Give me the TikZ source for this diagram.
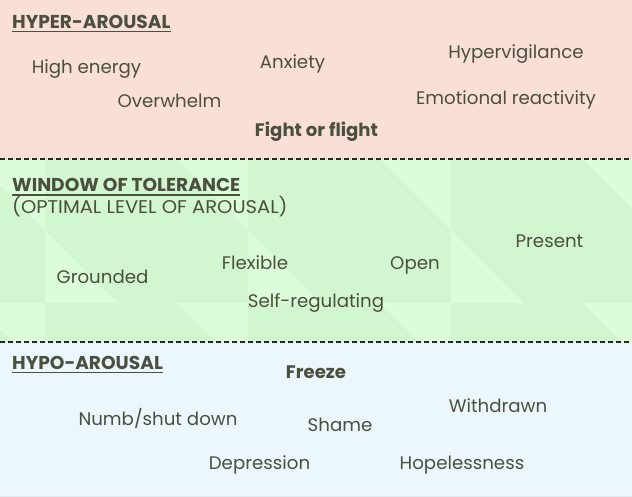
\documentclass[tikz,border=0pt]{standalone}
\usepackage{fontspec}
\usepackage{graphicx}
\setmainfont{Poppins}
\definecolor{txt}{RGB}{74,79,62}
\definecolor{pinkbg}{RGB}{250,223,214}
\definecolor{greenbg}{RGB}{210,246,208}
\definecolor{greenlt}{RGB}{219,253,217}
\definecolor{bluebg}{RGB}{235,247,253}
\begin{document}
\begin{tikzpicture}[x=1pt,y=-1pt,
  lbl/.style={font=\fontsize{18.2}{22}\selectfont, text=txt, inner sep=0pt, anchor=base},
  boldlbl/.style={lbl, font=\fontsize{18.1}{22}\selectfont\bfseries},
  hdr/.style={font=\fontsize{18.6}{22}\selectfont\bfseries, text=txt, inner sep=0pt, anchor=base west},
  sub/.style={font=\fontsize{18.4}{22}\selectfont, text=txt, inner sep=0pt, anchor=base west},
  uline/.style={draw=txt, line width=1.3pt},
  sep/.style={draw=black!85, line width=2pt, dash pattern=on 5pt off 3pt},
  tri/.style={fill=greenlt, draw=none}]
\useasboundingbox (0,0) rectangle (632,497);
% backgrounds
\fill[pinkbg] (0,0) rectangle (632,159.5);
\fill[greenbg] (0,159.5) rectangle (632,342);
\fill[bluebg] (0,342) rectangle (632,497);
\draw[color={rgb,255:red,226;green,232;blue,236}, line width=1pt] (0,496) -- (632,496);
% triangle pattern
\begin{scope}
\clip (0,159.5) rectangle (632,342);
\foreach \x in {-158,45,248,451} {
  \fill[tri] (\x+73,100) -- (\x+203,100) -- (\x+203,230) -- cycle;
  \fill[tri] (\x,230) -- (\x,303) -- (\x+73,303) -- cycle;
  \fill[tri] (\x+132,303) -- (\x+203,303) -- (\x+203,374) -- cycle;
}
\end{scope}
% separators
\coordinate (s1a) at (0,159.5);
\coordinate (s1b) at (632,159.5);
\coordinate (s2a) at (0,342);
\coordinate (s2b) at (632,342);
\draw[sep] (s1a) -- (s1b);
\draw[sep] (s2a) -- (s2b);
% hyper-arousal
\node[hdr] (h1) at (12,28.5) {HYPER-AROUSAL};
\draw[uline] ([yshift=-3pt]h1.base west) -- ([yshift=-3pt]h1.base east);
\node[lbl] (he) at (86.5,73.5) {High energy};
\node[lbl] (an) at (292.5,68.5) {Anxiety};
\node[lbl] (ov) at (169.5,107.5) {Overwhelm};
\node[boldlbl] (ff) at (316.5,136.5) {Fight or flight};
\node[lbl] (hv) at (516,58.5) {Hypervigilance};
\node[lbl] (er) at (506,104.5) {Emotional reactivity};
% window of tolerance
\node[hdr] (h2) at (12,192) {WINDOW OF TOLERANCE};
\draw[uline] ([yshift=-3pt]h2.base west) -- ([yshift=-3pt]h2.base east);
\node[sub] (h2b) at (12,213.5) {\scalebox{1.06}[1]{(OPTIMAL LEVEL OF AROUSAL)}};
\node[lbl] (gr) at (102.5,283.5) {Grounded};
\node[lbl] (fl) at (255,269.5) {Flexible};
\node[lbl] (sr) at (316,307.5) {Self-regulating};
\node[lbl] (op) at (415,269.5) {Open};
\node[lbl] (pr) at (549.5,247.5) {Present};
% hypo-arousal
\node[hdr] (h3) at (12,369.5) {HYPO-AROUSAL};
\draw[uline] ([yshift=-3pt]h3.base west) -- ([yshift=-3pt]h3.base east);
\node[boldlbl] (fr) at (316,378.5) {Freeze};
\node[lbl] (nu) at (158,425.5) {Numb/shut down};
\node[lbl] (sh) at (340,431.5) {Shame};
\node[lbl] (wd) at (498,412.5) {Withdrawn};
\node[lbl] (de) at (259.5,469.5) {Depression};
\node[lbl] (ho) at (462,469.5) {Hopelessness};
\end{tikzpicture}
\end{document}
